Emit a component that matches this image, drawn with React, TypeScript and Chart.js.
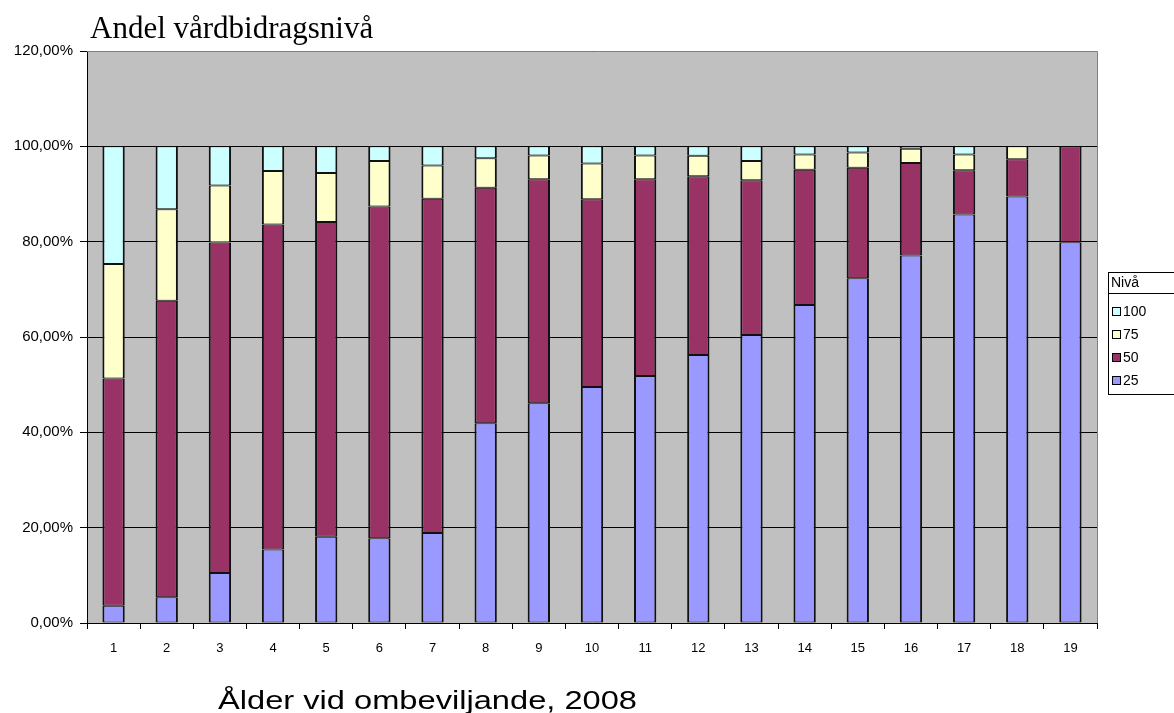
import React, { useEffect, useRef } from "react";
import { Chart, registerables } from "chart.js";

Chart.register(...registerables);

// ---- data ----
const categories = ["1", "2", "3", "4", "5", "6", "7", "8", "9", "10", "11", "12", "13", "14", "15", "16", "17", "18", "19"];
const level25 = [3.6, 5.4, 10.5, 15.4, 18.1, 17.8, 18.9, 41.9, 46.1, 49.5, 51.8, 56.2, 60.4, 66.7, 72.3, 77.1, 85.7, 89.5, 79.9];
const level50 = [47.7, 62.2, 69.3, 68.2, 66.0, 69.6, 70.1, 49.4, 47.0, 39.4, 41.3, 37.5, 32.5, 28.4, 23.2, 19.4, 9.3, 7.8, 20.1];
const level75 = [24.0, 19.2, 12.0, 11.2, 10.3, 9.5, 7.0, 6.2, 5.0, 7.5, 5.0, 4.3, 4.0, 3.2, 3.2, 3.0, 3.3, 2.7, 0];
const level100 = [24.7, 13.2, 8.2, 5.2, 5.6, 3.1, 4.0, 2.5, 1.9, 3.6, 1.9, 2.0, 3.1, 1.7, 1.3, 0.5, 1.7, 0, 0];
const seriesLabels = ["25", "50", "75", "100"];
const seriesColors = ["#9999FF", "#993366", "#FFFFCC", "#CCFFFF"];
const yMin = 0;
const yMax = 120;
const yStep = 20;

const chartTitle = "Andel vårdbidragsnivå";
const xAxisTitle = "Ålder vid ombeviljande, 2008";
const legendTitle = "Nivå";

const SANS = "'Liberation Sans', Arial, sans-serif";
const SERIF = "'Liberation Serif', 'Times New Roman', serif";

const decorPlugin = {
  id: "decor",
  beforeDraw(chart: any) {
    const { ctx, chartArea } = chart;
    ctx.save();
    ctx.fillStyle = "#ffffff";
    ctx.fillRect(0, 0, chart.width, chart.height);
    ctx.fillStyle = "#C0C0C0";
    ctx.fillRect(chartArea.left, chartArea.top, chartArea.right - chartArea.left, chartArea.bottom - chartArea.top);
    ctx.restore();
  },
  afterDraw(chart: any) {
    const { ctx, chartArea } = chart;
    ctx.save();
    // plot border (top/right)
    ctx.strokeStyle = "#808080";
    ctx.lineWidth = 1;
    ctx.beginPath();
    ctx.moveTo(chartArea.left, chartArea.top + 0.5);
    ctx.lineTo(chartArea.right + 0.5, chartArea.top + 0.5);
    ctx.lineTo(chartArea.right + 0.5, chartArea.bottom);
    ctx.stroke();

    // title
    ctx.fillStyle = "#000";
    ctx.font = `31px ${SERIF}`;
    ctx.textBaseline = "alphabetic";
    ctx.textAlign = "left";
    ctx.fillText(chartTitle, 90, 38);

    // x axis title (stretched like the original rendering)
    ctx.save();
    ctx.translate(218, 709);
    ctx.scale(1.255, 1);
    ctx.font = `26px ${SANS}`;
    ctx.fillText(xAxisTitle, 0, 0);
    ctx.restore();

    // legend
    const lx = 1108.5;
    const ly = 272.5;
    const lw = 80;
    const lh = 122;
    ctx.strokeStyle = "#000";
    ctx.lineWidth = 1;
    ctx.strokeRect(lx, ly, lw, lh);
    ctx.beginPath();
    ctx.moveTo(lx, 293.5);
    ctx.lineTo(lx + lw, 293.5);
    ctx.stroke();
    ctx.font = `14px ${SANS}`;
    ctx.textBaseline = "middle";
    ctx.fillText(legendTitle, 1111, 283);
    const ds = chart.data.datasets;
    const rows = ds.map((d: any, i: number) => i).reverse();
    rows.forEach((idx: number, r: number) => {
      const cy = 312 + r * 23;
      ctx.fillStyle = ds[idx].backgroundColor;
      ctx.fillRect(1112.5, cy - 4.5, 8, 8);
      ctx.strokeStyle = "#000";
      ctx.strokeRect(1112.5, cy - 4.5, 8, 8);
      ctx.fillStyle = "#000";
      ctx.fillText(ds[idx].label, 1123, cy);
    });
    ctx.restore();
  },
};

export default function App() {
  const ref = useRef<HTMLCanvasElement | null>(null);

  useEffect(() => {
    if (!ref.current) return;
    const values = [level25, level50, level75, level100];
    const chart = new Chart(ref.current, {
      type: "bar",
      data: {
        labels: categories,
        datasets: values.map((v, i) => ({
          label: seriesLabels[i],
          data: v,
          backgroundColor: seriesColors[i],
          borderColor: "#111",
          borderWidth: { left: 2, right: 2, top: 1, bottom: 1 },
          borderSkipped: false,
          inflateAmount: 0,
          categoryPercentage: 1,
          barPercentage: 0.42,
        })),
      },
      options: {
        responsive: false,
        animation: false,
        layout: { padding: { left: 0, right: 77, top: 51, bottom: 0 } },
        plugins: {
          legend: { display: false },
          title: { display: false },
          tooltip: { enabled: false },
        },
        scales: {
          x: {
            stacked: true,
            offset: true,
            afterFit: (s: any) => {
              s.height = 90;
            },
            grid: {
              display: true,
              offset: true,
              drawOnChartArea: false,
              drawTicks: true,
              tickLength: 6,
              color: "#000",
            },
            border: { display: true, color: "#000", width: 1 },
            ticks: {
              color: "#000",
              font: { family: SANS, size: 13 },
              padding: 12,
              maxRotation: 0,
            },
          },
          y: {
            stacked: true,
            min: yMin,
            max: yMax,
            afterFit: (s: any) => {
              s.width = 87;
            },
            grid: {
              color: "#000",
              lineWidth: 1,
              drawTicks: true,
              tickLength: 7,
            },
            border: { display: true, color: "#000", width: 1 },
            ticks: {
              stepSize: yStep,
              color: "#000",
              padding: 7,
              font: { family: SANS, size: 15 },
              callback: (v: any) => Number(v).toFixed(2).replace(".", ",") + "%",
            },
          },
        },
      },
      plugins: [decorPlugin],
    });
    return () => chart.destroy();
  }, []);

  return (
    <div style={{ position: "fixed", left: 0, top: 0, width: 1174, height: 713, background: "#fff" }}>
      <canvas ref={ref} width={1174} height={713} style={{ display: "block" }} />
    </div>
  );
}
